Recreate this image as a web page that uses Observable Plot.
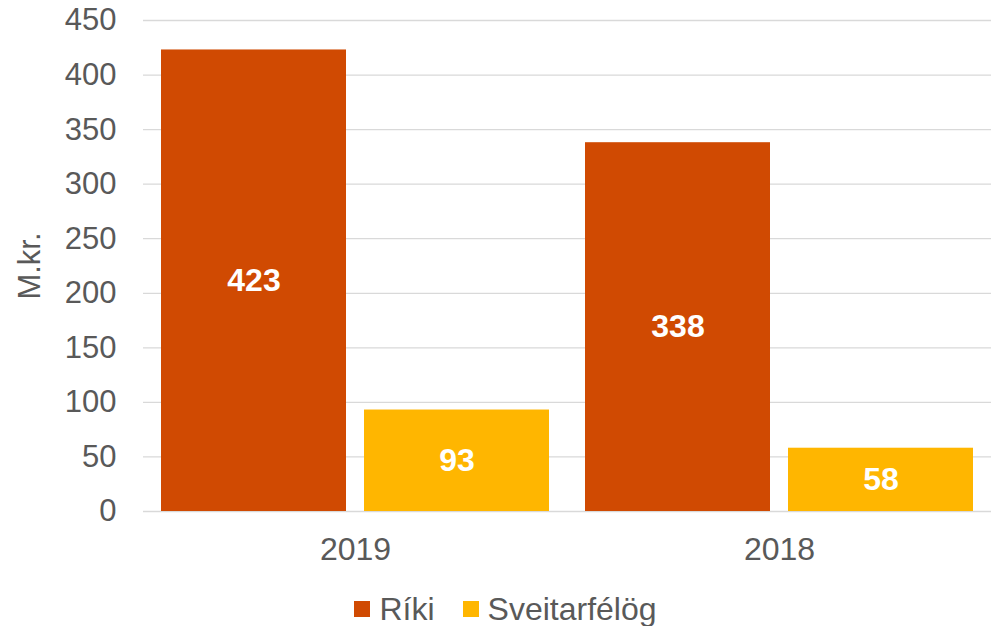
<!DOCTYPE html>
<html>
<head>
<meta charset="utf-8">
<script src="https://cdn.jsdelivr.net/npm/d3@7"></script>
<script src="https://cdn.jsdelivr.net/npm/@observablehq/plot@0.6"></script>
<style>
  html, body { margin: 0; padding: 0; background: #fff; }
  body { width: 991px; height: 626px; overflow: hidden; font-family: "Liberation Sans", Arial, sans-serif; }
  #legend { display: flex; justify-content: center; align-items: center; margin-top: 22px; height: 24px; color: #595959; font-size: 32px; padding-left: 20px; }
  .item { display: flex; align-items: center; margin: 0 14px; }
  .sw { width: 16px; height: 16px; margin-right: 9px; display: inline-block; }
</style>
</head>
<body>
<div id="chart"></div>
<div id="legend"></div>
<script>
const years = ["2019", "2018"];
const series = ["Ríki", "Sveitarfélög"];
const rikiValues = [423, 338];
const sveitValues = [93, 58];
const colors = ["#D04A02", "#FFB600"];
const yTicks = [0, 50, 100, 150, 200, 250, 300, 350, 400, 450];

const data = [];
years.forEach((yr, i) => {
  data.push({year: yr, series: series[0], value: rikiValues[i]});
  data.push({year: yr, series: series[1], value: sveitValues[i]});
});

const font = "'Liberation Sans', Arial, sans-serif";

const chart = Plot.plot({
  width: 991,
  height: 575,
  marginTop: 20,
  marginBottom: 64,
  marginLeft: 142,
  marginRight: 0,
  style: {fontFamily: font, fontSize: "31px", color: "#595959", background: "#fff"},
  fx: {domain: years, padding: 0, label: null},
  x: {domain: series, paddingInner: 0.09, paddingOuter: 0.086, axis: null},
  y: {domain: [0, 450], label: null},
  color: {domain: series, range: colors},
  marks: [
    Plot.gridY(yTicks, {stroke: "#d9d9d9", strokeOpacity: 1, strokeWidth: 1.3}),
    Plot.barY(data, {fx: "year", x: "series", y: "value", fill: "series"}),
    Plot.text(data, {fx: "year", x: "series", y: d => d.value / 2, text: d => String(d.value),
      fill: "white", fontWeight: "bold", fontSize: 32}),
    Plot.axisY(yTicks, {tickSize: 0, tickPadding: 27, fontSize: 31, fill: "#595959",
      label: "M.kr.", labelAnchor: "center", labelOffset: 126, labelArrow: "none"}),
    Plot.axisFx({anchor: "bottom", tickSize: 0, tickPadding: 26, fontSize: 32, fill: "#595959", label: null})
  ]
});
document.getElementById("chart").appendChild(chart);

const legend = document.getElementById("legend");
series.forEach((s, i) => {
  const item = document.createElement("div");
  item.className = "item";
  const sw = document.createElement("span");
  sw.className = "sw";
  sw.style.background = colors[i];
  const t = document.createElement("span");
  t.textContent = s;
  item.appendChild(sw);
  item.appendChild(t);
  legend.appendChild(item);
});
</script>
</body>
</html>
